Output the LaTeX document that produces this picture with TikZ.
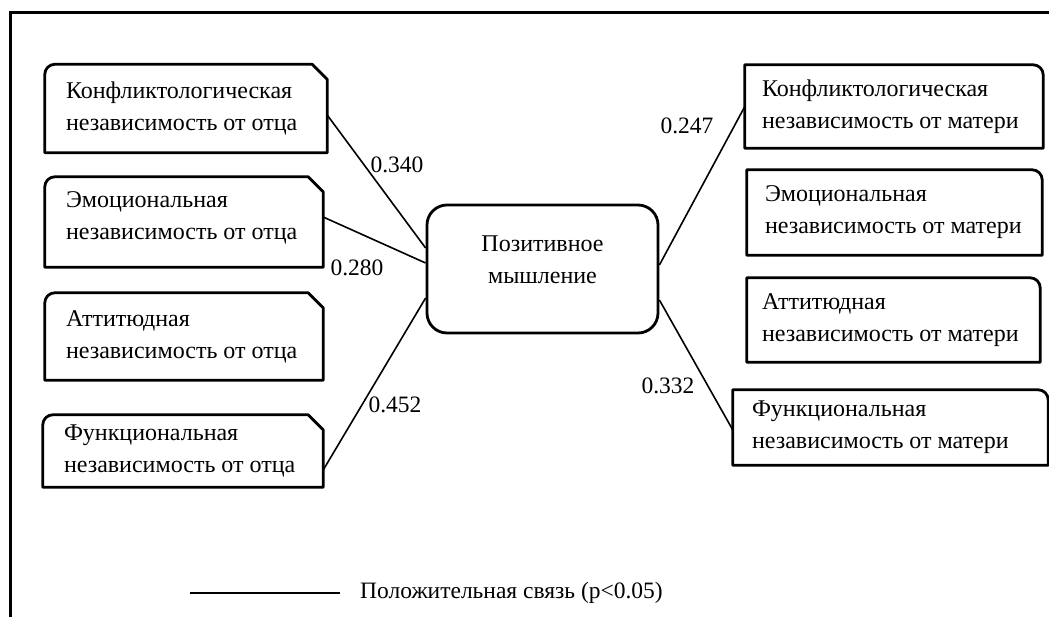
\documentclass[tikz,border=0pt]{standalone}
\usepackage{fontspec}
\setmainfont{Liberation Serif}
\usetikzlibrary{calc}
\begin{document}
\begin{tikzpicture}[x=1pt,y=-1pt,
  txt/.style={font=\fontsize{24}{32}\selectfont},
  box/.style={inner sep=0pt,anchor=center},
  boxtxt/.style={txt,inner sep=0pt,align=left,anchor=west},
  outline/.style={line width=2.8pt,line join=round},
  conn/.style={line width=1.6pt},
  lab/.style={font=\fontsize{23.5}{28}\selectfont,inner sep=0pt}]
\useasboundingbox (0,0) rectangle (1049,616);
% frame
\draw[line width=3pt] (1060,12) -- (10,12) -- (10,630);
% left boxes
\node[box,minimum width=282pt,minimum height=88pt] (L1) at (186,108.5) {};
\node[box,minimum width=278pt,minimum height=90pt] (L2) at (184,222) {};
\node[box,minimum width=278pt,minimum height=87pt] (L3) at (184,336.5) {};
\node[box,minimum width=280pt,minimum height=72pt] (L4) at (183,451) {};
\node[boxtxt] (L1t) at ([xshift=21pt]L1.west) {Конфликтологическая\\независимость от отца};
\node[boxtxt] (L2t) at ([xshift=21pt,yshift=4pt]L2.west) {Эмоциональная\\независимость от отца};
\node[boxtxt] (L3t) at ([xshift=21pt]L3.west) {Аттитюдная\\независимость от отца};
\node[boxtxt] (L4t) at ([xshift=21pt]L4.west) {Функциональная\\независимость от отца};
\foreach \n in {L1,L2,L3,L4}{
  \draw[outline] (\n.south west) [rounded corners=10pt] -- (\n.north west) [sharp corners]
    -- ([xshift=-15pt]\n.north east) -- ([yshift=-15pt]\n.north east) -- (\n.south east) -- cycle;
}
% central
\node[draw,outline,rounded corners=20pt,minimum width=231pt,minimum height=128pt,inner sep=0pt] (C) at (542.5,269) {};
\node[txt,align=center,inner sep=0pt] (Ct) at (542.5,260) {Позитивное\\мышление};
% right boxes
\node[box,minimum width=298pt,minimum height=83pt] (R1) at (894,106.5) {};
\node[box,minimum width=295pt,minimum height=85pt] (R2) at (894.5,212.5) {};
\node[box,minimum width=293pt,minimum height=84pt] (R3) at (893.5,320) {};
\node[box,minimum width=315pt,minimum height=75pt] (R4) at (890.5,427.5) {};
\node[boxtxt] (R1t) at ([xshift=17pt]R1.west) {Конфликтологическая\\независимость от матери};
\node[boxtxt] (R2t) at ([xshift=18pt]R2.west) {Эмоциональная\\независимость от матери};
\node[boxtxt] (R3t) at ([xshift=15pt]R3.west) {Аттитюдная\\независимость от матери};
\node[boxtxt] (R4t) at ([xshift=19pt]R4.west) {Функциональная\\независимость от матери};
\foreach \n in {R1,R2,R3,R4}{
  \draw[outline] (\n.south west) -- (\n.north west) [rounded corners=10pt]
    -- (\n.north east) [sharp corners] -- (\n.south east) -- cycle;
}
% connectors
\draw[conn] ([yshift=-6.5pt]L1.east) -- ([yshift=21pt]C.west);
\draw[conn] ([yshift=5pt]L2.east) -- ([yshift=6pt]C.west);
\draw[conn] ([yshift=-19pt]L4.east) -- ([yshift=-29pt]C.west);
\draw[conn] ([yshift=4pt]C.east) -- (R1.west);
\draw[conn] ([yshift=-31pt]C.east) -- ([yshift=-2.5pt]R4.west);
% labels
\node[lab] (a1) at (397,165) {0.340};
\node[lab] (a2) at (357,268) {0.280};
\node[lab] (a4) at (395,405) {0.452};
\node[lab] (b1) at (687,126) {0.247};
\node[lab] (b4) at (668,386) {0.332};
% legend
\coordinate (lg1) at (190,593);
\coordinate (lg2) at (340,593);
\draw[conn] (lg1) -- (lg2);
\node[lab,anchor=west] (lgt) at (360,593) {Положительная связь (p<0.05)};
\end{tikzpicture}
\end{document}
